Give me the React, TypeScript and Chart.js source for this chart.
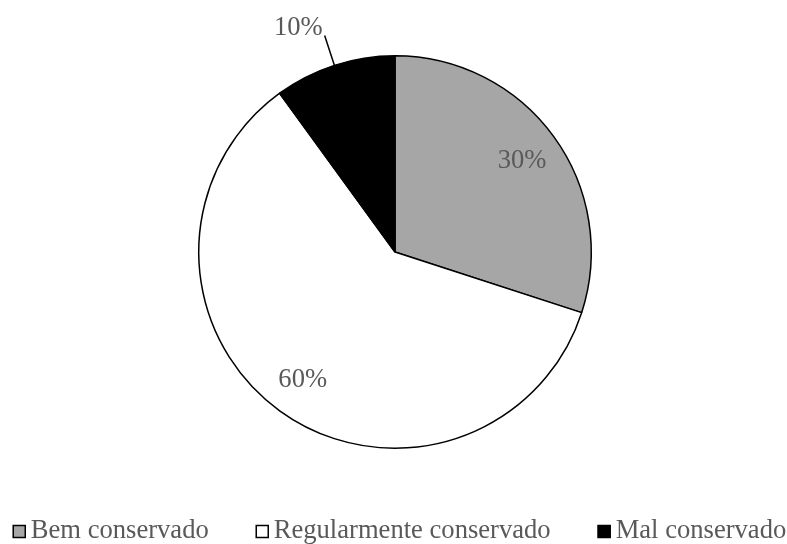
import { useEffect, useRef } from "react";
import { Chart, ArcElement, PieController } from "chart.js";
import type { Plugin } from "chart.js";

Chart.register(ArcElement, PieController);

// Estado de conservação
const categories = ["Bem conservado", "Regularmente conservado", "Mal conservado"];
const shares = [30, 60, 10];
const percentLabels = ["30%", "60%", "10%"];
const sliceColors = ["#A6A6A6", "#FFFFFF", "#000000"];

const FONT = '26.6px "Liberation Serif", "Times New Roman", serif';
const TEXT_COLOR = "#595959";

// Percent labels: inside the large slices, outside with a leader line for the small one
const sliceLabels: Plugin<"pie"> = {
  id: "sliceLabels",
  afterDatasetsDraw(chart) {
    const ctx = chart.ctx;
    const meta = chart.getDatasetMeta(0);
    const sum = shares.reduce((a, b) => a + b, 0);
    ctx.save();
    ctx.font = FONT;
    ctx.fillStyle = TEXT_COLOR;
    meta.data.forEach((el, i) => {
      const { x, y, startAngle, endAngle, outerRadius } = (el as any).getProps(
        ["x", "y", "startAngle", "endAngle", "outerRadius"],
        true
      );
      const mid = (startAngle + endAngle) / 2;
      const cos = Math.cos(mid);
      const sin = Math.sin(mid);
      if (shares[i] / sum >= 0.2) {
        const d = outerRadius * 0.8;
        ctx.textAlign = "center";
        ctx.textBaseline = "middle";
        ctx.fillText(percentLabels[i], x + cos * d, y + sin * d + 1);
      } else {
        const x0 = x + cos * outerRadius;
        const y0 = y + sin * outerRadius;
        const x1 = x + cos * outerRadius * 1.16;
        const y1 = y + sin * outerRadius * 1.16;
        ctx.strokeStyle = "#000000";
        ctx.lineWidth = 1.5;
        ctx.beginPath();
        ctx.moveTo(x0, y0);
        ctx.lineTo(x1, y1);
        ctx.stroke();
        ctx.textAlign = "right";
        ctx.textBaseline = "alphabetic";
        ctx.fillText(percentLabels[i], x1 - 2, y1);
      }
    });
    ctx.restore();
  },
};

// Legend row along the bottom edge
const bottomLegend: Plugin<"pie"> = {
  id: "bottomLegend",
  afterDraw(chart) {
    const ctx = chart.ctx;
    const box = 13;
    const boxGap = 5;
    const itemGap = 47;
    ctx.save();
    ctx.font = FONT;
    const widths = categories.map((c) => ctx.measureText(c).width);
    const total =
      widths.reduce((a, w) => a + box + boxGap + w, 0) + itemGap * (categories.length - 1);
    let cx = (chart.width - total) / 2 + 6;
    const baseline = chart.height - 6;
    categories.forEach((c, i) => {
      ctx.fillStyle = sliceColors[i];
      ctx.fillRect(cx, baseline - box, box, box);
      ctx.strokeStyle = "#000000";
      ctx.lineWidth = 1.5;
      ctx.strokeRect(cx + 0.5, baseline - box + 0.5, box - 1, box - 1);
      ctx.fillStyle = TEXT_COLOR;
      ctx.textAlign = "left";
      ctx.textBaseline = "alphabetic";
      ctx.fillText(c, cx + box + boxGap, baseline);
      cx += box + boxGap + widths[i] + itemGap;
    });
    ctx.restore();
  },
};

export default function App() {
  const canvasRef = useRef<HTMLCanvasElement | null>(null);

  useEffect(() => {
    if (!canvasRef.current) return;
    const chart = new Chart(canvasRef.current, {
      type: "pie",
      data: {
        labels: categories,
        datasets: [
          {
            data: shares,
            backgroundColor: sliceColors,
            borderColor: "#000000",
            borderWidth: 1.5,
          },
        ],
      },
      options: {
        responsive: false,
        animation: false,
        events: [],
        layout: { padding: { top: 55, bottom: 95, left: 198, right: 195 } },
        plugins: {
          legend: { display: false },
          tooltip: { enabled: false },
        },
      },
      plugins: [sliceLabels, bottomLegend],
    });
    return () => chart.destroy();
  }, []);

  return (
    <div style={{ position: "fixed", left: 0, top: 0, width: 787, height: 544, background: "#fff" }}>
      <canvas ref={canvasRef} width={787} height={544} />
    </div>
  );
}
